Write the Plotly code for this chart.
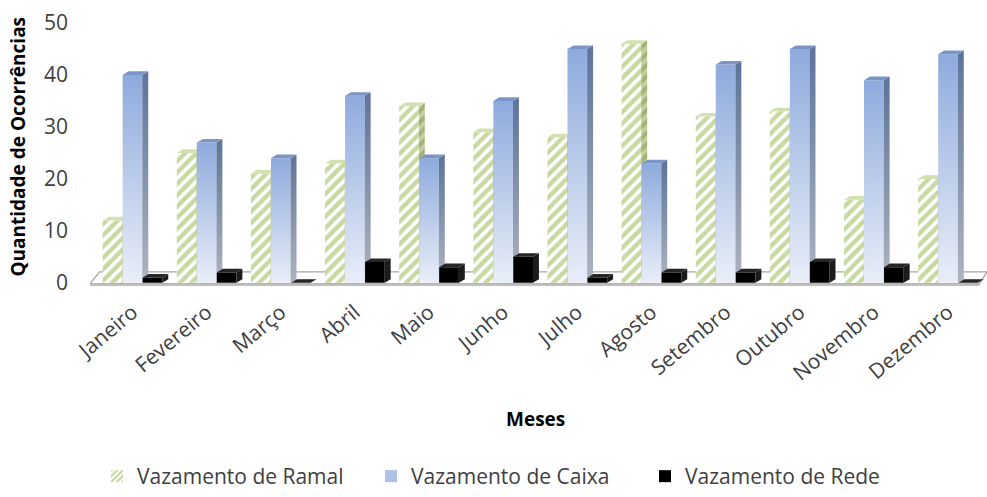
import plotly.graph_objects as go

months = ["Janeiro", "Fevereiro", "Março", "Abril", "Maio", "Junho",
          "Julho", "Agosto", "Setembro", "Outubro", "Novembro", "Dezembro"]
ramal = [12, 25, 21, 23, 34, 29, 28, 46, 32, 33, 16, 20]
caixa = [40, 27, 24, 36, 24, 35, 45, 23, 42, 45, 39, 44]
rede = [1, 2, 0, 4, 3, 5, 1, 2, 2, 4, 3, 0]
series_names = ["Vazamento de Ramal", "Vazamento de Caixa", "Vazamento de Rede"]
y_ticks = [0, 10, 20, 30, 40, 50]

FONT = "Open Sans"
TXT = "#404040"

# 3D-look geometry (category units / value units)
W = 0.265
OFF = [-0.27, 0.0, 0.27]
DX = 0.08
DY = 0.7


def edges(i, k):
    xl = i + OFF[k] - W / 2
    return xl, xl + W


def front(i, v, k):
    xl, xr = edges(i, k)
    return [xl, xr, xr, xl, xl], [0, 0, v, v, 0]


def side(i, v, k):
    xl, xr = edges(i, k)
    return [xr, xr + DX, xr + DX, xr, xr], [0, DY, v + DY, v, 0]


def top(i, v, k):
    xl, xr = edges(i, k)
    return [xl, xr, xr + DX, xl + DX, xl], [v, v, v + DY, v + DY, v]


def merged(fn, vals, k):
    xs, ys = [], []
    for i, v in enumerate(vals):
        x, y = fn(i, v, k)
        xs += x + [None]
        ys += y + [None]
    return xs, ys


def poly(x, y, **kw):
    return go.Scatter(x=x, y=y, mode="lines", fill="toself",
                      line=dict(width=0, color="rgba(0,0,0,0)"),
                      hoverinfo="skip", showlegend=False, **kw)


fig = go.Figure()

# --- Ramal (green hatched) ---
x, y = merged(front, ramal, 0)
fig.add_trace(poly(x, y, fillcolor="white",
                   fillpattern=dict(shape="/", fgcolor="#8fb444", bgcolor="white",
                                    size=8, solidity=0.55)))
x, y = merged(side, ramal, 0)
fig.add_trace(poly(x, y, fillcolor="#b9c690",
                   fillpattern=dict(shape="/", fgcolor="#80934a", bgcolor="#c4cea0",
                                    size=8, solidity=0.5)))
x, y = merged(top, ramal, 0)
fig.add_trace(poly(x, y, fillcolor="#d3e0b2"))

# --- Caixa (blue gradient) ---
for i, v in enumerate(caixa):
    x, y = front(i, v, 1)
    fig.add_trace(poly(x, y, fillgradient=dict(
        type="vertical", colorscale=[[0, "#e9eef8"], [1, "#8eaadc"]])))
    x, y = side(i, v, 1)
    fig.add_trace(poly(x, y, fillgradient=dict(
        type="vertical", colorscale=[[0, "#adb4bf"], [1, "#5c7399"]])))
x, y = merged(top, caixa, 1)
fig.add_trace(poly(x, y, fillcolor="#7b96c6"))

# --- Rede (black) ---
x, y = merged(front, rede, 2)
fig.add_trace(poly(x, y, fillcolor="#000000"))
x, y = merged(side, rede, 2)
fig.add_trace(poly(x, y, fillcolor="#1c1c1c"))
x, y = merged(top, rede, 2)
fig.add_trace(poly(x, y, fillcolor="#262626"))

# --- legend entries ---
fig.add_trace(go.Bar(x=[None], y=[None], name=series_names[0],
                     marker=dict(color="white", line=dict(width=0),
                                 pattern=dict(shape="/", fgcolor="#8fb444", bgcolor="white",
                                              size=5, solidity=0.55))))
fig.add_trace(go.Bar(x=[None], y=[None], name=series_names[1],
                     marker=dict(color="#aec2e8", line=dict(width=0))))
fig.add_trace(go.Bar(x=[None], y=[None], name=series_names[2],
                     marker=dict(color="#000000", line=dict(width=0))))

XL, XR = -0.573, 11.526
FLOOR_D = 2.1
fig.update_layout(
    width=987, height=497,
    margin=dict(l=90, r=0, t=22, b=210, autoexpand=False),
    paper_bgcolor="white", plot_bgcolor="white",
    font=dict(family=FONT, color=TXT),
    showlegend=True,
    legend=dict(orientation="h", xref="container", yref="container",
                x=(508 / 987), xanchor="center", y=0, yanchor="bottom",
                font=dict(size=21, color=TXT), entrywidth=229, traceorder="normal",
                bgcolor="rgba(0,0,0,0)"),
    xaxis=dict(range=[XL, XR], tickvals=list(range(len(months))), ticktext=months,
               tickangle=-40, tickfont=dict(size=21, color=TXT), showgrid=False,
               zeroline=False, showline=False, ticks="", ticklabelstandoff=8,
               automargin=False),
    yaxis=dict(range=[-0.8, 50.2], tickvals=y_ticks, tickfont=dict(size=21, color=TXT),
               showgrid=False, zeroline=False, showline=False, ticks="",
               ticklabelstandoff=21, automargin=False),
    shapes=[
        dict(type="path", xref="x", yref="y", layer="below",
             path=f"M {XL},-0.15 L {XR-0.1},-0.15 L {XR},{FLOOR_D} L {XL+0.13},{FLOOR_D} Z",
             fillcolor="white", line=dict(color="#a6a6a6", width=1.3)),
        dict(type="line", xref="x", yref="y", layer="below",
             x0=XL, x1=XR - 0.1, y0=-0.38, y1=-0.38,
             line=dict(color="#bfbfbf", width=2.5)),
    ],
    annotations=[
        dict(text="<b>Quantidade de Ocorrências</b>", textangle=-90,
             xref="paper", yref="paper", x=(18 - 90) / 897, y=0.53,
             xanchor="center", yanchor="middle", showarrow=False,
             font=dict(size=19, color="black", family=FONT)),
        dict(text="<b>Meses</b>", xref="paper", yref="paper",
             x=(535 - 90) / 897, y=(287 - 419) / 265, xanchor="center", yanchor="middle",
             showarrow=False, font=dict(size=19, color="black", family=FONT)),
    ],
)

fig.write_html("out.html")
